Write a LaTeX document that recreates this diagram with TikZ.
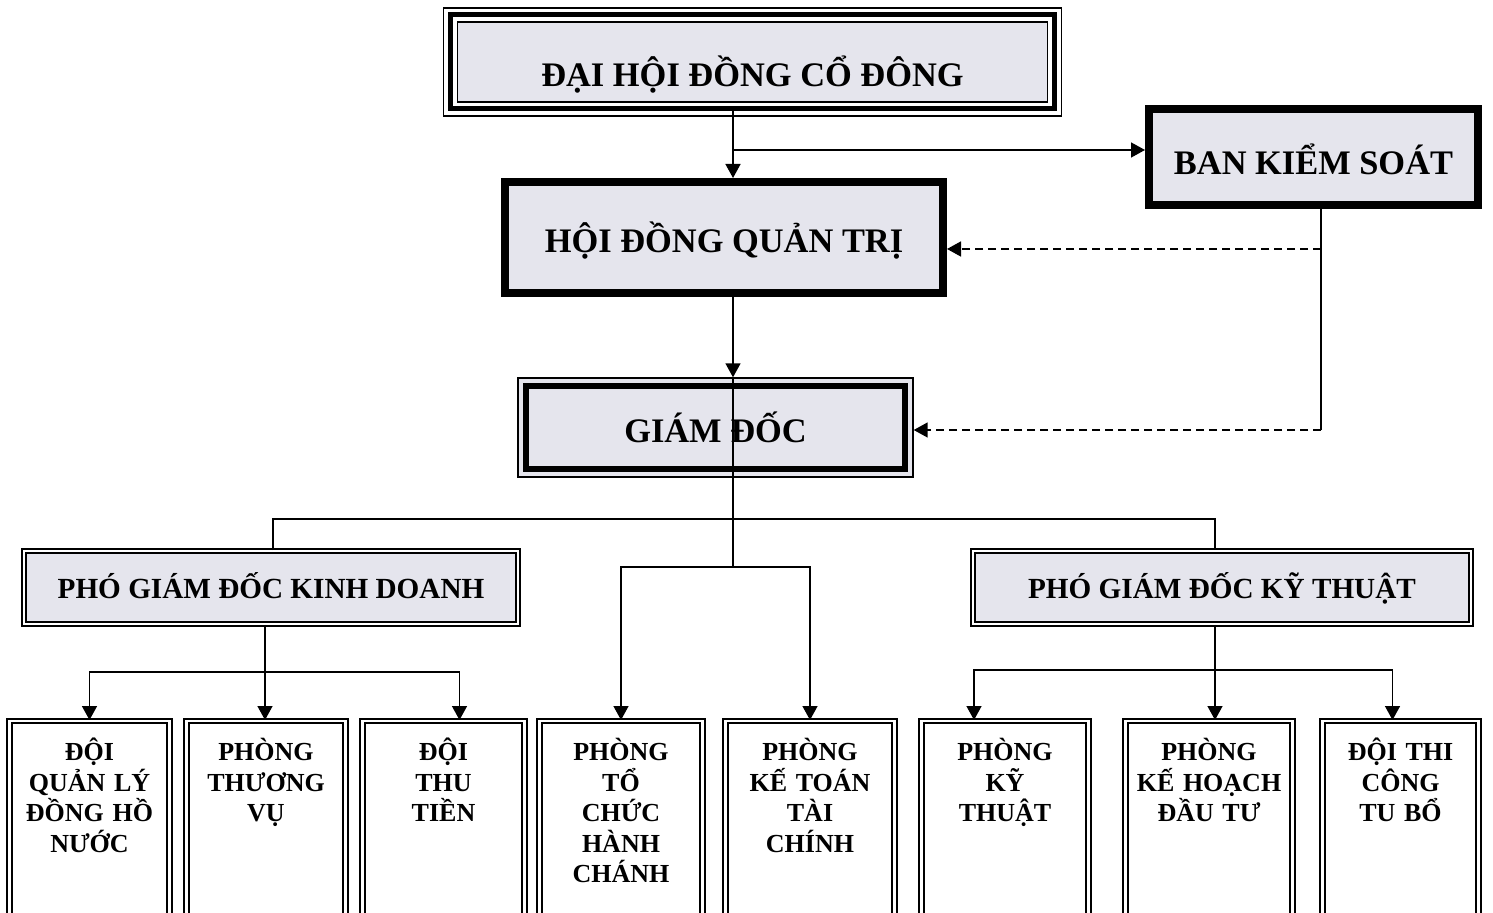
\documentclass[tikz,border=0pt]{standalone}
\usepackage{fontspec}
\setmainfont{Liberation Serif}
\usetikzlibrary{arrows.meta,positioning,calc}
\definecolor{boxfill}{RGB}{229,229,237}
\newcommand\hdfont{\fontsize{17.2}{20}\selectfont\bfseries}
\newcommand\vicefont{\fontsize{14.6}{17}\selectfont\bfseries}
\newcommand\unitfont{\fontsize{13}{15.25}\selectfont\bfseries}

\begin{document}
\begin{tikzpicture}[x=0.5pt,y=-0.5pt,
    conn/.style={line width=0.75pt},
    arr/.style={conn,-{Triangle[length=7pt,width=7.5pt]}},
    ctrl/.style={arr,dash pattern=on 4pt off 2.5pt},
    topbox/.style={preaction={fill=boxfill},preaction={draw,line width=0.75pt,double=white,double distance=6.25pt},draw,line width=2.5pt,inner sep=0pt,font=\hdfont,text height=25pt,text depth=0pt},
    heavybox/.style={draw,fill=boxfill,line width=3pt,inner sep=0pt,font=\hdfont,text height=15pt,text depth=0pt},
    gdbox/.style={draw,fill=boxfill,line width=0.7pt,inner sep=0pt,font=\hdfont,text height=15pt,text depth=0pt},
    vicebox/.style={draw,fill=boxfill,line width=0.8pt,double=white,double distance=1.2pt,inner sep=0pt,font=\vicefont,text height=12pt,text depth=1pt},
    unitbox/.style={draw,fill=white,line width=0.9pt,double=white,double distance=1.4pt,anchor=north,align=center,inner xsep=0pt,inner ysep=3pt,font=\unitfont,text height=17pt,text depth=100pt}]
    \useasboundingbox (0,0) rectangle (1493,913);
    \clip (0,0) rectangle (1493,913);

    \node[topbox,minimum width=302pt,minimum height=47pt](dhdcd) at (752.5,62){ĐẠI HỘI ĐỒNG CỔ ĐÔNG};
    \node[heavybox,minimum width=165.5pt,minimum height=49pt,text height=18pt](bks) at (1313.5,157){BAN KIỂM SOÁT};
    \node[heavybox,minimum width=220pt,minimum height=56.5pt](hdqt) at (724,237.5){HỘI ĐỒNG QUẢN TRỊ};
    \node[gdbox,minimum width=197.5pt,minimum height=49.5pt](gd) at (715.5,427.5){GIÁM ĐỐC};
    \node[vicebox,minimum width=246.75pt,minimum height=36.5pt](pgdkd) at (271,587.5){PHÓ GIÁM ĐỐC KINH DOANH};
    \node[vicebox,minimum width=249pt,minimum height=36.5pt](pgdkt) at (1222,587.5){PHÓ GIÁM ĐỐC KỸ THUẬT};

    \foreach \i/\x/\w/\txt in {1/89.5/80/{ĐỘI\\QUẢN LÝ\\ĐỒNG HỒ\\NƯỚC},
        2/266/79.5/{PHÒNG\\THƯƠNG\\VỤ},
        3/443.5/81/{ĐỘI\\THU\\TIỀN},
        4/621/81.5/{PHÒNG\\TỔ\\CHỨC\\HÀNH\\CHÁNH},
        5/810/84.5/{PHÒNG\\KẾ TOÁN\\TÀI\\CHÍNH},
        6/1005/83.5/{PHÒNG\\KỸ\\THUẬT},
        7/1209/83.5/{PHÒNG\\KẾ HOẠCH\\ĐẦU TƯ},
        8/1400.5/78/{ĐỘI THI\\CÔNG\\TU BỔ}}
      \node[unitbox,text width=\w pt](u\i) at (\x,720){\txt};

    \foreach \n in {bks,hdqt}
      \draw[line width=0.6pt] ([shift={(3.5pt,-3.5pt)}]\n.north west) rectangle ([shift={(-3.5pt,3.5pt)}]\n.south east);
    \draw[line width=3pt] ([shift={(4.5pt,-4.5pt)}]gd.north west) rectangle ([shift={(-4.5pt,4.5pt)}]gd.south east);

    \coordinate (spine) at (733,150);
    \coordinate (ctl) at (1321,430);
    \coordinate (ctl2) at (1321,249);
    \coordinate (kdtop) at (273,519);
    \coordinate (kttop) at (1215,519);
    \coordinate (mid) at (733,567);
    \coordinate (kdbus) at (265,672);
    \coordinate (ktbus) at (1215,670);

    \draw[arr] (dhdcd.south -| spine) -- (hdqt.north -| spine);
    \draw[arr] (spine) -- (bks.west |- spine);
    \draw[conn] (bks.south -| ctl) -- (ctl);
    \draw[ctrl] (ctl2) -- (hdqt.east |- ctl2);
    \draw[ctrl] (ctl) -- (gd.east |- ctl);
    \draw[arr] (hdqt.south -| spine) -- (gd.north -| spine);
    \draw[conn] (gd.north -| spine) -- (mid);
    \draw[conn] (pgdkd.north -| kdtop) -- (kdtop) -- (kttop) -- (pgdkt.north -| kttop);
    \draw[arr] (mid) -| (u4.north);
    \draw[arr] (mid) -| (u5.north);
    \draw[conn] (pgdkd.south -| kdbus) -- (kdbus);
    \draw[arr] (kdbus) -| (u1.north);
    \draw[arr] (kdbus) -- (u2.north -| kdbus);
    \draw[arr] (kdbus) -| ([xshift=8pt]u3.north);
    \draw[arr] (pgdkt.south -| ktbus) -- (u7.north -| ktbus);
    \draw[arr] (ktbus) -| ([xshift=-15.5pt]u6.north);
    \draw[arr] (ktbus) -| ([xshift=-4pt]u8.north);
\end{tikzpicture}
\end{document}
